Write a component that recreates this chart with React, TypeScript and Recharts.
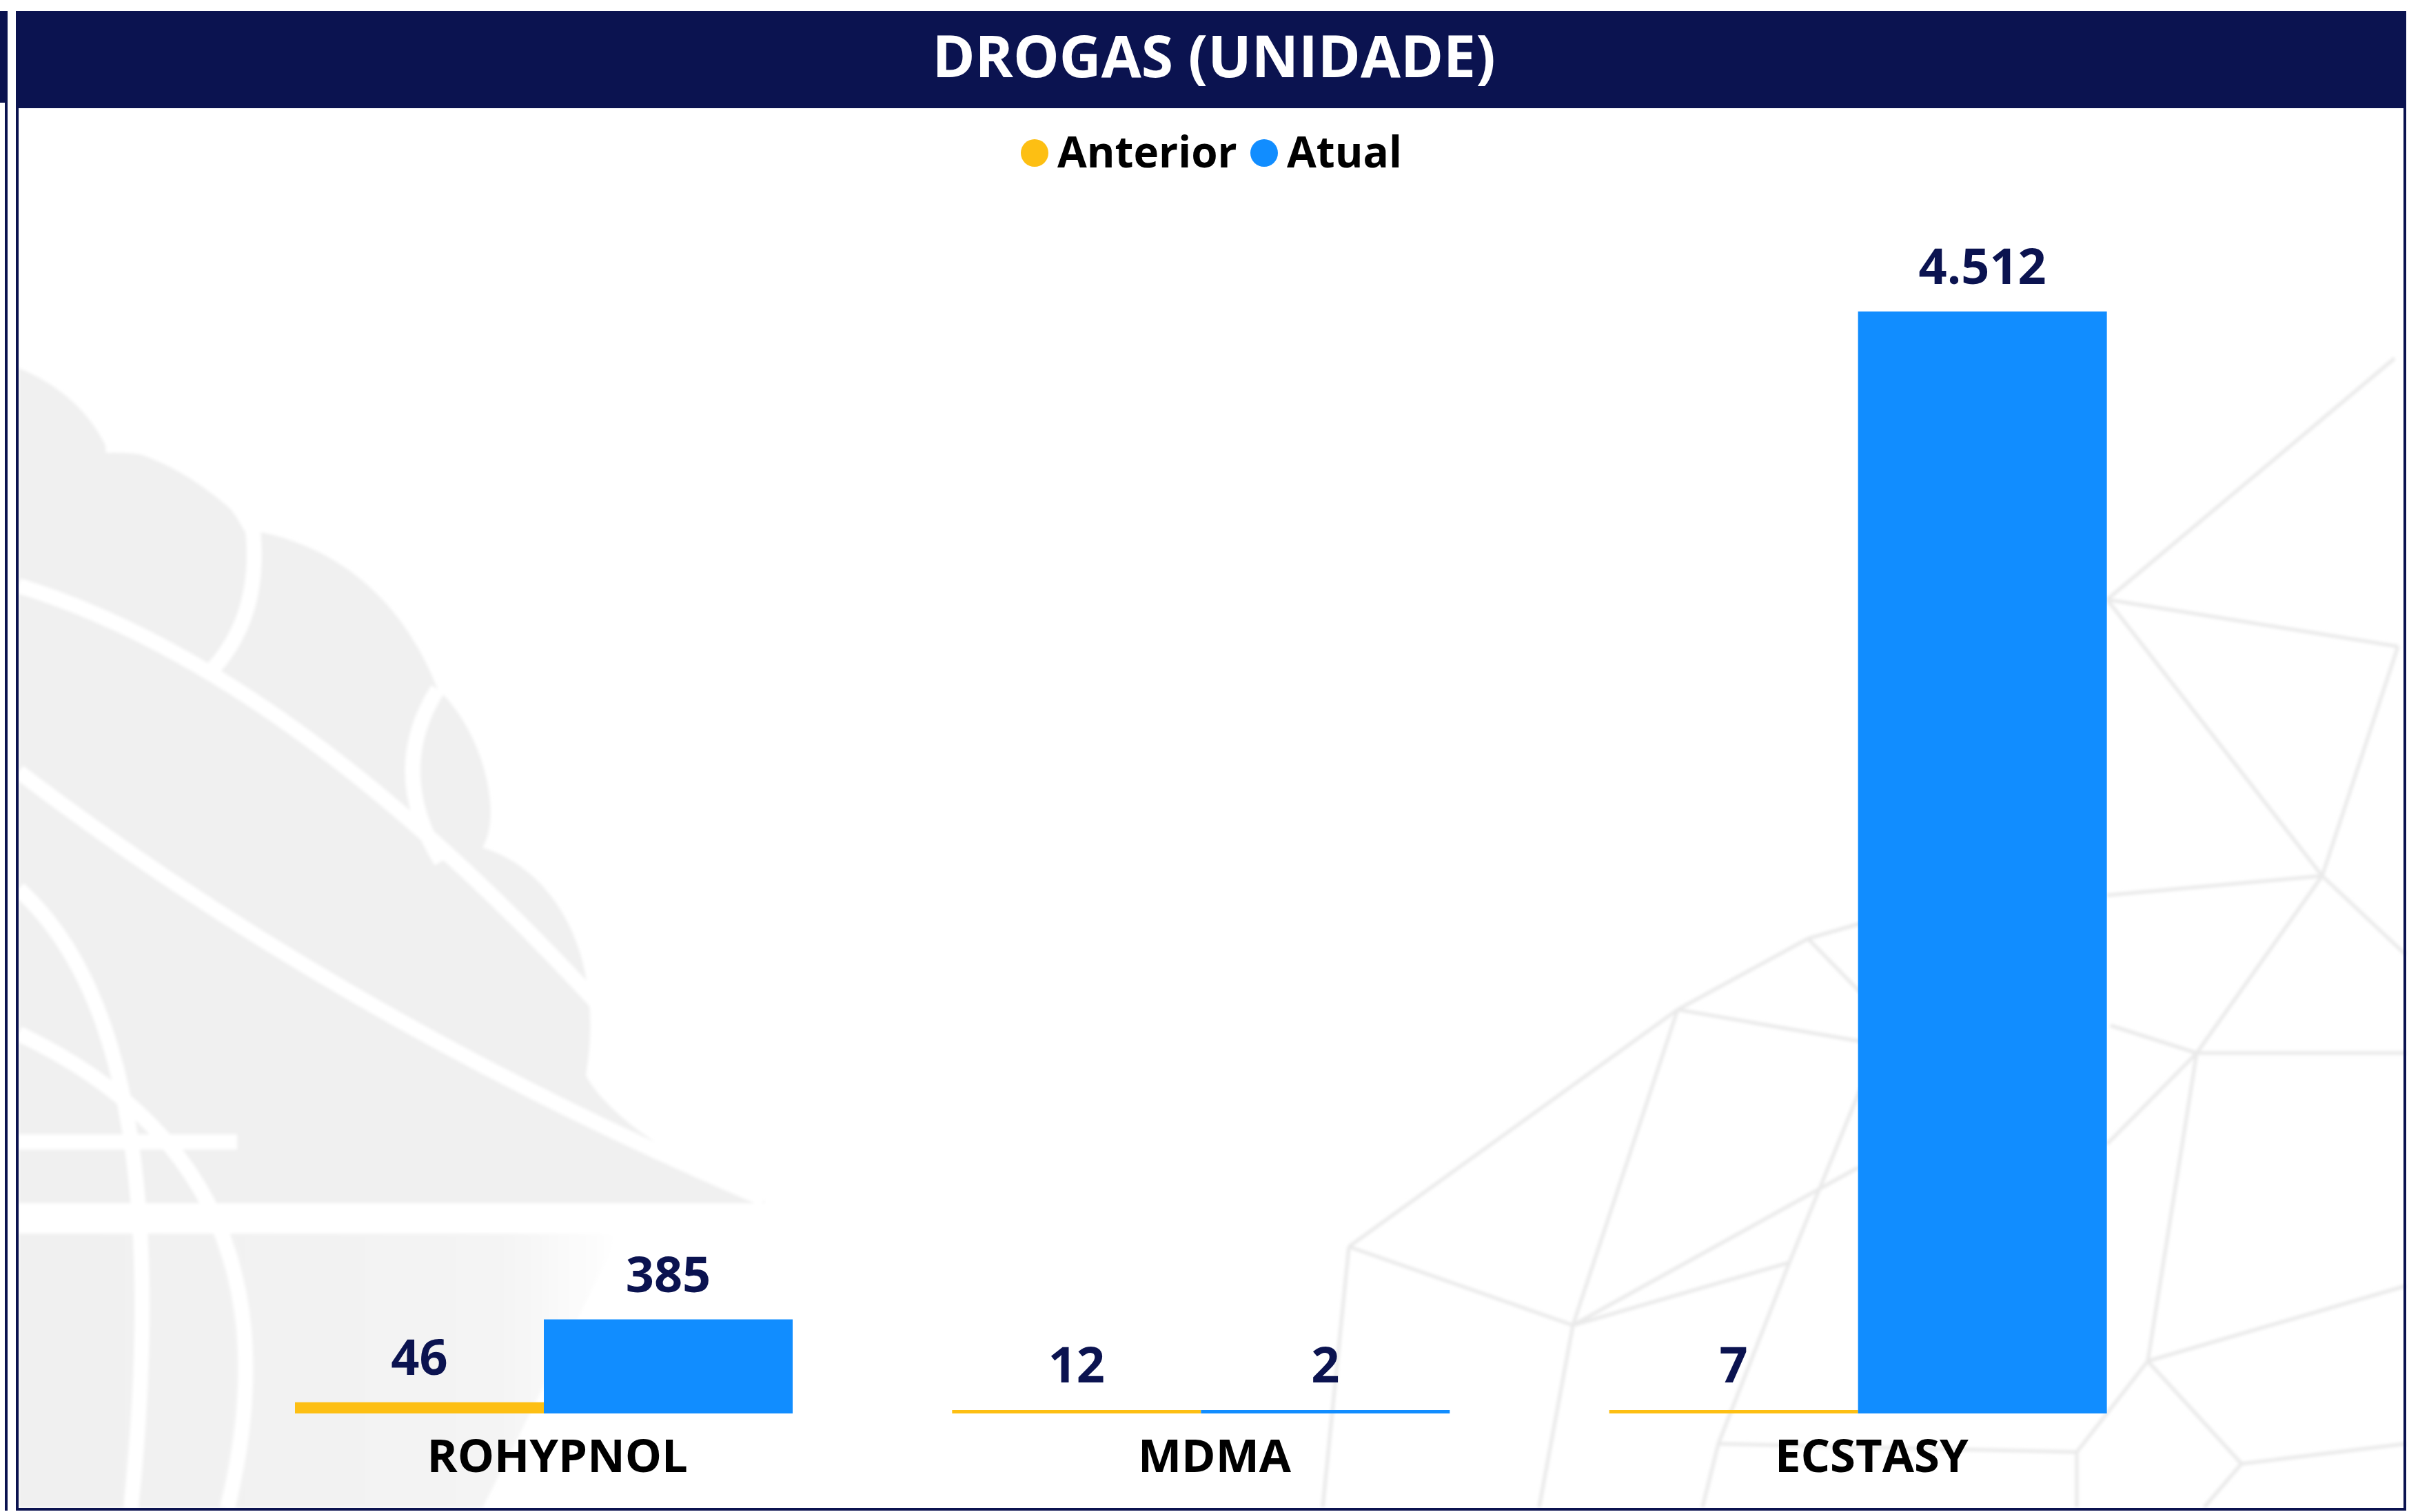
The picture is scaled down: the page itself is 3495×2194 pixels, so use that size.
import React from "react";
import { Bar, BarChart, LabelList, Legend, XAxis, YAxis } from "recharts";

const categories = ["ROHYPNOL", "MDMA", "ECSTASY"];
const anterior = [46, 12, 7];
const atual = [385, 2, 4512];
const seriesNames = ["Anterior", "Atual"];
const seriesColors = ["#FDBF13", "#118DFF"];

const data = categories.map((name, i) => ({ name, anterior: anterior[i], atual: atual[i] }));

const W = 3495;
const H = 2194;
const NAVY = "#0B1350";
const FONT = "'Open Sans', 'Noto Sans', sans-serif";

// pt-BR thousands separator
const fmt = (v: any) => String(v).replace(/\B(?=(\d{3})+(?!\d))/g, ".");

function CategoryTick(props: any) {
  const { x, y, payload } = props;
  return (
    <text x={x + 20} y={y} dy={85} textAnchor="middle" fill="#000" fontFamily={FONT} fontWeight={700} fontSize={67}>
      {payload.value}
    </text>
  );
}

function LegendContent(props: any) {
  const items = props.payload && props.payload.length ? props.payload : seriesNames.map((n, i) => ({ value: n, color: seriesColors[i] }));
  const starts = [1481, 1814];
  return (
    <svg width={W} height={300} style={{ display: "block" }}>
      {items.map((it: any, i: number) => (
        <g key={it.value}>
          <circle cx={starts[i] + 20} cy={222} r={20} fill={it.color} />
          <text x={starts[i] + 53} y={243} fontFamily={FONT} fontWeight={700} fontSize={62} fill="#000">
            {it.value}
          </text>
        </g>
      ))}
    </svg>
  );
}

// faint background artwork (logo + polygon mesh)
const meshLines: Array<[number, number, number, number]> = [
  [3474, 520, 3057, 870], [3057, 870, 3479, 938], [3057, 870, 3369, 1271], [3479, 938, 3369, 1271],
  [3057, 1299, 3369, 1271], [3369, 1271, 3490, 1385], [3369, 1271, 3187, 1528], [3062, 1488, 3187, 1528],
  [3187, 1528, 3490, 1528], [3057, 1660, 3187, 1528], [3187, 1528, 3116, 1975], [3116, 1975, 3252, 2124],
  [3116, 1975, 3490, 1866], [3116, 1975, 3013, 2107], [3252, 2124, 3490, 2095], [3252, 2124, 3198, 2187],
  [3013, 2107, 3013, 2187], [2623, 1362, 2434, 1465], [2623, 1362, 2699, 1440], [2434, 1465, 2699, 1511],
  [2434, 1465, 1957, 1809], [2434, 1465, 2282, 1923], [1957, 1809, 2282, 1923], [2282, 1923, 2596, 1832],
  [2596, 1832, 2699, 1580], [2282, 1923, 2696, 1694], [2596, 1832, 2493, 2095], [2493, 2095, 2470, 2187],
  [2493, 2095, 3013, 2107], [1957, 1809, 1919, 2187], [2282, 1923, 2233, 2187], [2623, 1362, 2699, 1340],
];

function Backdrop() {
  return (
    <svg width={W} height={H} style={{ position: "absolute", left: 0, top: 0 }}>
      <defs>
        <filter id="soft" x="-5%" y="-5%" width="110%" height="110%">
          <feGaussianBlur stdDeviation="2" />
        </filter>
        <linearGradient id="fade" x1="0" y1="0" x2="1" y2="0">
          <stop offset="0" stopColor="#F0F0F0" />
          <stop offset="0.8" stopColor="#F4F4F4" />
          <stop offset="1" stopColor="#FFFFFF" />
        </linearGradient>
      </defs>
      <rect x={0} y={0} width={W} height={H} fill="#FFFFFF" />
      <g filter="url(#soft)">
        <path
          d="M27,534 C90,560 130,600 153,646 C230,660 300,700 367,770 C480,790 580,860 635,1000 C700,1060 730,1180 700,1230 C800,1260 880,1380 850,1560 C880,1620 1000,1700 1109,1735 L1109,1746 L27,1746 Z"
          fill="#F0F0F0"
        />
        <path d="M27,1790 L900,1790 L700,2188 L27,2188 Z" fill="url(#fade)" />
        <g stroke="#FFFFFF" strokeWidth={22} fill="none">
          <path d="M27,850 Q520,1000 1109,1740" />
          <path d="M27,1120 Q500,1480 1109,1740" />
          <path d="M27,1657 L344,1657" />
          <path d="M27,1290 Q260,1500 190,2188" />
          <path d="M27,1500 Q450,1700 330,2188" />
          <path d="M153,646 Q300,640 367,770" />
          <path d="M367,770 Q380,900 300,980" />
          <path d="M635,1000 Q560,1120 640,1250" />
          <path d="M27,1768 L1109,1768" />
        </g>
        <g stroke="#E9E9E9" strokeWidth={5}>
          {meshLines.map((l, i) => (
            <line key={i} x1={l[0]} y1={l[1]} x2={l[2]} y2={l[3]} />
          ))}
        </g>
      </g>
      {/* neighbouring panel edge */}
      <rect x={0} y={16} width={11} height={133} fill={NAVY} />
      <rect x={7} y={149} width={4} height={2043} fill={NAVY} />
      {/* frame + title bar */}
      <rect x={23} y={16} width={3468} height={141} fill={NAVY} />
      <rect x={23} y={16} width={4} height={2176} fill={NAVY} />
      <rect x={3487} y={16} width={4} height={2176} fill={NAVY} />
      <rect x={23} y={2188} width={3468} height={4} fill={NAVY} />
      <text x={1761} y={112} textAnchor="middle" fill="#FFFFFF" fontFamily={FONT} fontWeight={700} fontSize={84}>
        DROGAS (UNIDADE)
      </text>
    </svg>
  );
}

export default function App() {
  return (
    <div style={{ position: "absolute", left: 0, top: 0, width: W, height: H, background: "#fff", overflow: "hidden" }}>
      <Backdrop />
      <div style={{ position: "absolute", left: 0, top: 0 }}>
        <BarChart
          width={W}
          height={H}
          data={data}
          margin={{ top: 452, right: 323, bottom: 43, left: 312 }}
          barGap={0}
          barSize={361}
        >
          <XAxis dataKey="name" axisLine={false} tickLine={false} tickSize={0} tickMargin={0} height={100} tick={<CategoryTick />} interval={0} />
          <YAxis hide domain={[0, 4512]} />
          <Legend
            verticalAlign="middle"
            align="center"
            layout="horizontal"
            wrapperStyle={{ top: 0, left: 0, width: W, height: 300 }}
            content={<LegendContent />}
          />
          <Bar dataKey="anterior" name={seriesNames[0]} fill={seriesColors[0]} minPointSize={5} isAnimationActive={false}>
            <LabelList dataKey="anterior" position="top" offset={40} formatter={fmt} fill={NAVY} fontFamily={FONT} fontWeight={700} fontSize={72} />
          </Bar>
          <Bar dataKey="atual" name={seriesNames[1]} fill={seriesColors[1]} minPointSize={5} isAnimationActive={false}>
            <LabelList dataKey="atual" position="top" offset={40} formatter={fmt} fill={NAVY} fontFamily={FONT} fontWeight={700} fontSize={72} />
          </Bar>
        </BarChart>
      </div>
    </div>
  );
}
